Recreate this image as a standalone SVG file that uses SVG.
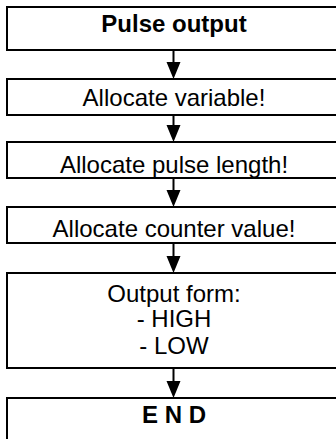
<svg xmlns="http://www.w3.org/2000/svg" width="336" height="439" viewBox="0 0 336 439">
<style>
.box{fill:#fff;stroke:#000;stroke-width:2}
.t{font-family:"Liberation Sans",Arial,sans-serif;font-size:24px;fill:#000;text-anchor:middle}
.b{font-weight:bold}
.ln{stroke:#000;stroke-width:2;fill:none}
.ah{fill:#000}
</style>
<rect width="336" height="439" fill="#fff"/>
<g id="n1"><rect class="box" x="7" y="7" width="334" height="43"/><text class="t b" x="174" y="32">Pulse output</text></g>
<g id="n2"><rect class="box" x="7" y="79" width="334" height="36"/><text class="t" x="174" y="106">Allocate variable!</text></g>
<g id="n3"><rect class="box" x="7" y="142" width="334" height="36"/><text class="t" x="174" y="173">Allocate pulse length!</text></g>
<g id="n4"><rect class="box" x="7" y="207" width="334" height="36"/><text class="t" x="174" y="237">Allocate counter value!</text></g>
<g id="n5"><rect class="box" x="7" y="273" width="334" height="95"/><text class="t" x="174" y="302">Output form:</text><text class="t" x="174" y="327">- HIGH</text><text class="t" x="174" y="354">- LOW</text></g>
<g id="n6"><rect class="box" x="7" y="398" width="334" height="60"/><text class="t b" x="174" y="423">E N D</text></g>
<g id="connectors">
<line class="ln" x1="173.5" y1="50" x2="173.5" y2="63"/><polygon class="ah" points="166.5,62 180.5,62 173.5,79"/>
<line class="ln" x1="173.5" y1="115" x2="173.5" y2="126"/><polygon class="ah" points="166.5,125 180.5,125 173.5,142"/>
<line class="ln" x1="173.5" y1="178" x2="173.5" y2="191"/><polygon class="ah" points="166.5,190 180.5,190 173.5,207"/>
<line class="ln" x1="173.5" y1="243" x2="173.5" y2="257"/><polygon class="ah" points="166.5,256 180.5,256 173.5,273"/>
<line class="ln" x1="173.5" y1="368" x2="173.5" y2="382"/><polygon class="ah" points="166.5,381 180.5,381 173.5,398"/>
</g>
</svg>
